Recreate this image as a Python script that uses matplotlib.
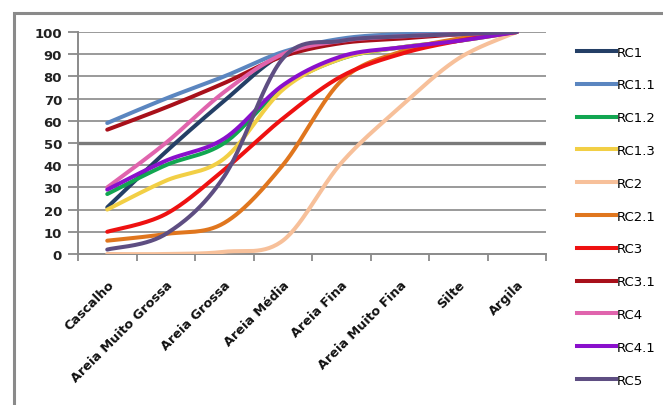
import numpy as np
import matplotlib
matplotlib.use("Agg")
import matplotlib.pyplot as plt
from matplotlib.lines import Line2D
from matplotlib.patches import Rectangle

categories = ["Cascalho", "Areia Muito Grossa", "Areia Grossa", "Areia Média",
              "Areia Fina", "Areia Muito Fina", "Silte", "Argila"]

RC1 = [21, 46, 69, 90, 96, 98, 99, 100]
RC1_1 = [59, 70, 80, 91, 97, 99, 99, 100]
RC1_2 = [27, 40, 50, 75, 88, 93, 96, 100]
RC1_3 = [20, 33, 43, 74, 88, 93, 96, 100]
RC2 = [0, 0, 1, 6, 41, 66, 88, 100]
RC2_1 = [6, 9, 14, 40, 78, 91, 97, 100]
RC3 = [10, 18, 38, 61, 80, 90, 96, 100]
RC3_1 = [56, 66, 77, 89, 95, 97, 99, 100]
RC4 = [30, 50, 73, 90, 96, 98, 99, 100]
RC4_1 = [29, 42, 52, 76, 89, 93, 96, 100]
RC5 = [2, 9, 35, 88, 96, 98, 99, 100]

series = [
    ("RC1", RC1, "#243f66"),
    ("RC1.1", RC1_1, "#5b86c0"),
    ("RC1.2", RC1_2, "#12a651"),
    ("RC1.3", RC1_3, "#f2cf45"),
    ("RC2", RC2, "#f7c09a"),
    ("RC2.1", RC2_1, "#e0761e"),
    ("RC3", RC3, "#ee1111"),
    ("RC3.1", RC3_1, "#a8101a"),
    ("RC4", RC4, "#e064ad"),
    ("RC4.1", RC4_1, "#8a10cc"),
    ("RC5", RC5, "#5e4e82"),
]


def smooth(xs, ys, n=30):
    """Catmull-Rom style cubic Bezier through the points (spreadsheet 'smoothed line')."""
    xs = np.asarray(xs, float)
    ys = np.asarray(ys, float)
    pts = np.column_stack([xs, ys])
    out = []
    m = len(pts)
    for i in range(m - 1):
        p0 = pts[max(i - 1, 0)]
        p1 = pts[i]
        p2 = pts[i + 1]
        p3 = pts[min(i + 2, m - 1)]
        c1 = p1 + (p2 - p0) / 6.0
        c2 = p2 - (p3 - p1) / 6.0
        t = np.linspace(0, 1, n, endpoint=(i == m - 2))[:, None]
        seg = ((1 - t) ** 3) * p1 + 3 * ((1 - t) ** 2) * t * c1 + 3 * (1 - t) * t ** 2 * c2 + t ** 3 * p2
        out.append(seg)
    out = np.vstack(out)
    return out[:, 0], out[:, 1]


W, H = 663, 406
fig = plt.figure(figsize=(W / 100, H / 100), dpi=100)
fig.patch.set_facecolor("white")

# outer chart frame
fig.patches.append(Rectangle((14 / W, -0.1), 1.2, 1 - 14 / H + 0.1, transform=fig.transFigure,
                             fill=False, edgecolor="#8a8a8a", linewidth=2.2))

ax = fig.add_axes([78 / W, 1 - 255 / H, (546 - 78) / W, (255 - 33) / H])
ax.set_facecolor("white")

x = np.arange(len(categories))
ax.set_xlim(-0.5, len(categories) - 0.5)
ax.set_ylim(0, 100)

# gridlines
for v in range(10, 101, 10):
    if v == 50:
        ax.axhline(v, color="#7a7a7a", linewidth=2.4, zorder=1)
    else:
        ax.axhline(v, color="#9a9a9a", linewidth=1.4, zorder=1)

for name, vals, col in series:
    sx, sy = smooth(x, vals)
    ax.plot(sx, sy, color=col, linewidth=2.9, solid_capstyle="round", zorder=3, label=name)

ax.set_yticks(range(0, 101, 10))
ax.set_yticklabels([str(v) for v in range(0, 101, 10)], fontsize=9.5, fontweight="bold", color="#222222")
ax.set_xticks(np.arange(-0.5, len(categories), 1.0))
ax.set_xticklabels([])
ax.set_xticks(x, minor=True)
ax.set_xticklabels(categories, minor=True, rotation=45, ha="right", rotation_mode="anchor",
                   fontsize=9.2, fontweight="bold", color="#111111")
ax.tick_params(axis="x", which="minor", length=0, pad=17)
ax.tick_params(axis="x", which="major", length=5, color="#8a8a8a", width=1.3, direction="out")
ax.tick_params(axis="y", length=7, color="#8a8a8a", width=1.3, direction="out", pad=4.5)

for s in ["top", "right"]:
    ax.spines[s].set_visible(False)
for s in ["left", "bottom"]:
    ax.spines[s].set_color("#8a8a8a")
    ax.spines[s].set_linewidth(1.4)

handles = [Line2D([0], [0], color=c, linewidth=2.9) for _, _, c in series]
labels = [n for n, _, _ in series]
fig.legend(handles, labels, loc="upper left", bbox_to_anchor=(570 / W, 1 - 40 / H),
           frameon=False, fontsize=9.5, handlelength=3.0, handletextpad=0.05,
           labelspacing=1.50, borderpad=0)

fig.savefig("out.png", dpi=100)
